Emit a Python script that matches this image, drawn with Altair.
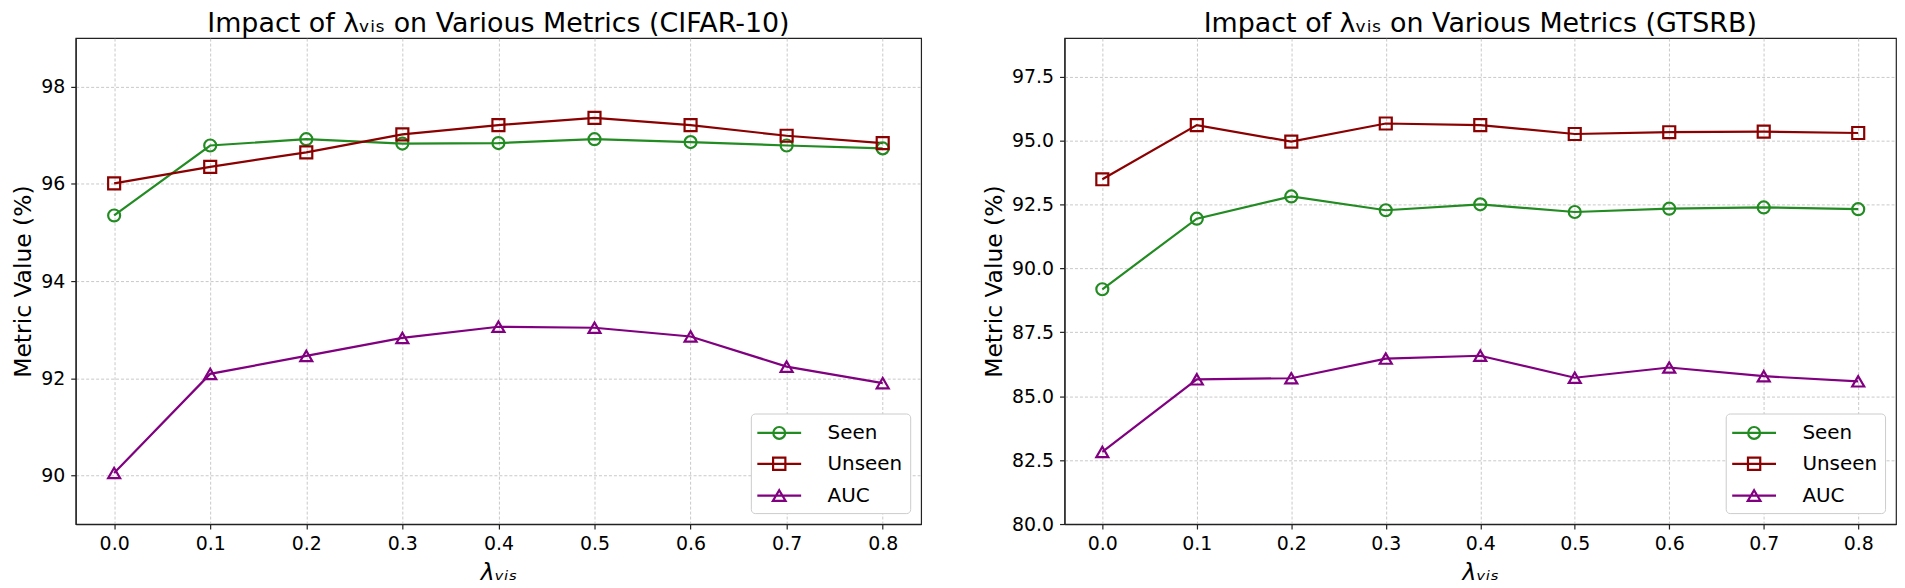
import altair as alt
import pandas as pd

lambdas = [0.0, 0.1, 0.2, 0.3, 0.4, 0.5, 0.6, 0.7, 0.8]
metrics = ["Seen", "Unseen", "AUC"]
colors = ["#228B22", "#8B0000", "#800080"]
marker_shapes = ["circle", "square", "triangle-up"]
legend_shapes = [
    "M-2,0L2,0M0.54,0A0.54,0.54,0,1,1,-0.54,0A0.54,0.54,0,1,1,0.54,0Z",
    "M-2,0L2,0M-0.56,-0.56L0.56,-0.56L0.56,0.56L-0.56,0.56Z",
    "M-2,0L2,0M0,-0.5L0.58,0.48L-0.58,0.48Z",
]

cifar_seen = [95.35, 96.79, 96.92, 96.83, 96.84, 96.92, 96.86, 96.79, 96.73]
cifar_unseen = [96.01, 96.35, 96.65, 97.02, 97.21, 97.36, 97.21, 96.99, 96.84]
cifar_auc = [90.05, 92.09, 92.46, 92.83, 93.06, 93.04, 92.86, 92.24, 91.90]

gtsrb_seen = [89.18, 91.94, 92.81, 92.27, 92.50, 92.20, 92.33, 92.38, 92.31]
gtsrb_unseen = [93.48, 95.60, 94.95, 95.66, 95.60, 95.25, 95.32, 95.34, 95.29]
gtsrb_auc = [82.82, 85.66, 85.70, 86.47, 86.58, 85.72, 86.12, 85.78, 85.58]

cifar_yticks = [90, 92, 94, 96, 98]
gtsrb_yticks = [80.0, 82.5, 85.0, 87.5, 90.0, 92.5, 95.0, 97.5]

FONT = "DejaVu Sans"


def panel(seen, unseen, auc, name, ydomain, yticks, yfmt, width):
    df = pd.DataFrame({
        "lam": lambdas * 3,
        "value": seen + unseen + auc,
        "metric": ["Seen"] * 9 + ["Unseen"] * 9 + ["AUC"] * 9,
    })
    base = alt.Chart(df)
    x = alt.X("lam:Q",
              scale=alt.Scale(domain=[-0.04, 0.84], nice=False, zero=False),
              axis=alt.Axis(values=lambdas, format=".1f", title="λᵥᵢₛ",
                            titleFontStyle="italic", titlePadding=7))
    y = alt.Y("value:Q",
              scale=alt.Scale(domain=ydomain, nice=False, zero=False),
              axis=alt.Axis(values=yticks, format=yfmt, title="Metric Value (%)",
                            titlePadding=5))
    cscale = alt.Scale(domain=metrics, range=colors)
    lines = base.mark_line(strokeWidth=2.2).encode(
        x=x, y=y, color=alt.Color("metric:N", scale=cscale, legend=None))
    points = base.mark_point(filled=False, size=145, strokeWidth=2.2, opacity=1).encode(
        x=x, y=y,
        color=alt.Color("metric:N", scale=cscale, legend=None),
        shape=alt.Shape("metric:N", scale=alt.Scale(domain=metrics, range=marker_shapes),
                        legend=None))
    leg = alt.Legend(title=None, orient="bottom-right", offset=11, padding=7,
                     fillColor="white", strokeColor="#cccccc", cornerRadius=4,
                     labelFontSize=20, labelFont=FONT, labelColor="black",
                     symbolSize=484, symbolStrokeWidth=2.2, symbolOffset=9,
                     labelOffset=36, rowPadding=8)
    legend_layer = base.transform_filter("false").mark_point(
        filled=False, size=484, strokeWidth=2.2, opacity=1).encode(
        x=x, y=y,
        color=alt.Color("metric:N", scale=alt.Scale(domain=metrics, range=colors), legend=leg),
        shape=alt.Shape("metric:N", scale=alt.Scale(domain=metrics, range=legend_shapes),
                        legend=leg))
    return alt.layer(lines, points, legend_layer).resolve_scale(
        color="independent", shape="independent").properties(
        width=width, height=488,
        title=alt.TitleParams(f"Impact of λᵥᵢₛ on Various Metrics ({name})",
                              fontSize=27, font=FONT, fontWeight="normal",
                              color="black", anchor="middle", offset=0))


left = panel(cifar_seen, cifar_unseen, cifar_auc, "CIFAR-10", [89, 99], cifar_yticks, "d", 849)
right = panel(gtsrb_seen, gtsrb_unseen, gtsrb_auc, "GTSRB", [80, 99], gtsrb_yticks, ".1f", 835)

chart = alt.hconcat(left, right, spacing=60).properties(
    padding={"left": 3, "top": 0, "right": 0, "bottom": 0}
).configure_axis(
    labelFont=FONT, labelFontSize=19, labelColor="black", labelPadding=6,
    titleFont=FONT, titleFontSize=23.5, titleColor="black", titleFontWeight="normal",
    domainColor="#222222", domainWidth=1.2, tickColor="#222222", tickWidth=1.2, tickSize=5,
    gridColor="#bbbbbb", gridDash=[3, 2], gridWidth=0.8,
).configure_view(stroke="#222222", strokeWidth=1.2)

chart.save("out.html", embed_options={"renderer": "svg", "actions": False})
